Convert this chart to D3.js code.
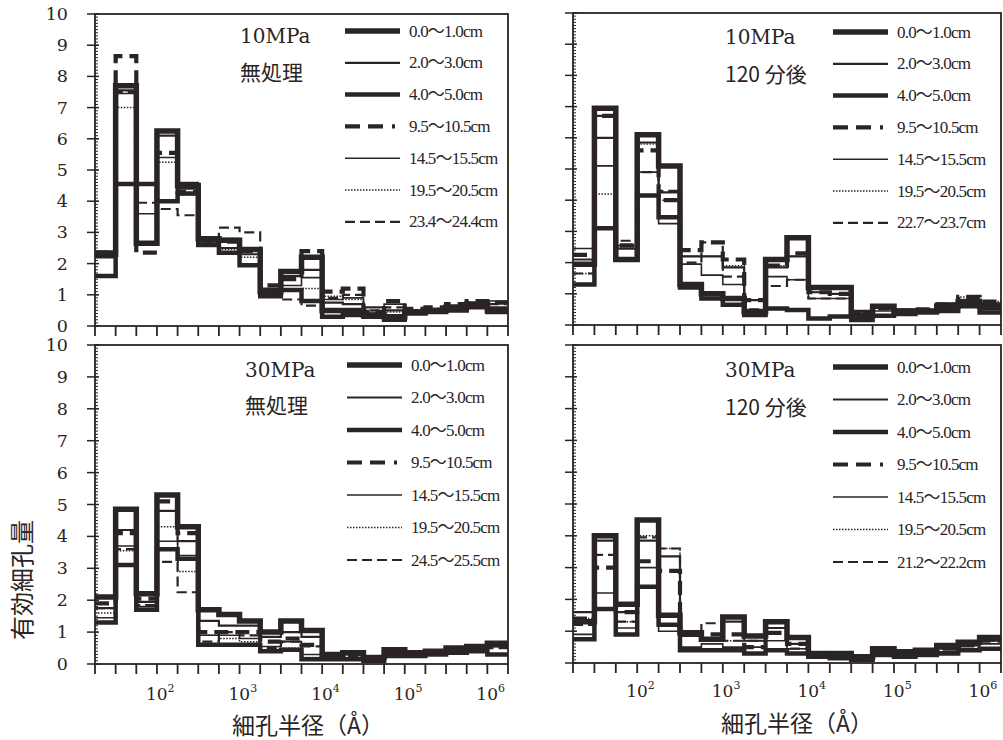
<!DOCTYPE html>
<html>
<head>
<meta charset="utf-8">
<script src="https://cdn.jsdelivr.net/npm/d3@7/dist/d3.min.js"></script>
<style>
  body { margin: 0; background: #fff; }
  svg { display: block; }
  text { fill: #2a2424; font-family: "DejaVu Serif", "Liberation Serif", "Noto Sans CJK JP", serif; }
  .leg { font-family: "Liberation Serif", "Noto Sans CJK JP", serif; }
  .jp { font-family: "Noto Sans CJK JP", sans-serif; }
</style>
</head>
<body>
<script>
// bin edges, as log10 of pore radius (quarter decades)
var binEdges = [1.25, 1.5, 1.75, 2.0, 2.25, 2.5, 2.75, 3.0, 3.25, 3.5, 3.75,
  4.0, 4.25, 4.5, 4.75, 5.0, 5.25, 5.5, 5.75, 6.0, 6.25];
var xTickLabels = [2, 3, 4, 5, 6];

var depthsCommon = ["0.0～1.0cm", "2.0～3.0cm", "4.0～5.0cm", "9.5～10.5cm", "14.5～15.5cm", "19.5～20.5cm"];
var lastDepth = ["23.4～24.4cm", "22.7～23.7cm", "24.5～25.5cm", "21.2～22.2cm"];
var pressures = ["10MPa", "10MPa", "30MPa", "30MPa"];
var treatments = ["無処理", "120 分後", "無処理", "120 分後"];

// 10MPa 無処理
var tl = [
  [2.3, 7.7, 2.65, 6.25, 4.5, 2.8, 2.75, 2.45, 1.1, 1.75, 2.2, 0.5, 0.5, 0.35, 0.3, 0.45, 0.5, 0.6, 0.7, 0.5],
  [2.2, 7.55, 2.6, 6.1, 4.4, 2.7, 2.5, 2.3, 1.2, 1.6, 1.8, 0.75, 0.7, 0.6, 0.5, 0.5, 0.55, 0.65, 0.75, 0.6],
  [1.6, 4.55, 4.55, 4.0, 4.25, 2.6, 2.35, 1.95, 0.95, 1.15, 0.8, 0.3, 0.35, 0.3, 0.2, 0.4, 0.45, 0.5, 0.6, 0.45],
  [2.35, 8.65, 2.35, 5.55, 4.3, 2.75, 2.7, 2.4, 1.3, 1.5, 2.4, 1.1, 1.2, 0.45, 0.8, 0.55, 0.6, 0.7, 0.8, 0.75],
  [2.4, 7.45, 3.6, 5.4, 4.6, 2.85, 2.8, 2.5, 1.05, 1.3, 1.55, 0.85, 0.9, 0.4, 0.7, 0.45, 0.5, 0.6, 0.7, 0.8],
  [2.25, 7.0, 2.7, 5.25, 4.2, 2.65, 2.45, 2.2, 1.0, 1.15, 1.2, 0.95, 0.85, 0.45, 0.45, 0.4, 0.5, 0.55, 0.65, 0.55],
  [2.3, 7.5, 3.95, 3.75, 3.55, 2.7, 3.15, 3.0, 1.15, 0.85, 0.65, 0.9, 1.0, 0.5, 0.6, 0.5, 0.55, 0.6, 0.75, 0.7]
];
// 10MPa 120分後
var tr = [
  [1.95, 6.95, 2.1, 6.1, 5.1, 1.3, 1.0, 0.85, 0.43, 2.1, 2.8, 1.2, 1.2, 0.3, 0.6, 0.45, 0.45, 0.6, 0.75, 0.6],
  [2.1, 6.0, 2.45, 5.85, 4.25, 2.2, 2.2, 1.85, 0.8, 1.85, 2.2, 1.05, 1.0, 0.45, 0.64, 0.45, 0.45, 0.6, 0.75, 0.5],
  [1.3, 3.1, 2.1, 4.15, 3.45, 1.2, 0.85, 0.65, 0.32, 0.53, 0.48, 0.21, 0.27, 0.16, 0.3, 0.35, 0.4, 0.45, 0.6, 0.4],
  [2.25, 6.7, 2.55, 5.6, 4.0, 2.4, 2.65, 2.1, 0.8, 1.9, 2.3, 1.05, 1.0, 0.4, 0.55, 0.45, 0.5, 0.65, 0.9, 0.75],
  [2.45, 5.1, 2.55, 4.9, 3.25, 1.95, 1.6, 1.3, 0.45, 1.55, 1.45, 0.85, 0.85, 0.3, 0.45, 0.5, 0.45, 0.7, 0.75, 0.7],
  [1.65, 4.2, 2.5, 5.8, 4.0, 2.2, 2.2, 1.9, 0.8, 1.9, 2.2, 1.05, 1.0, 0.35, 0.64, 0.5, 0.5, 0.7, 0.9, 0.75],
  [1.65, 6.7, 2.7, 4.9, 4.3, 2.0, 2.65, 1.55, 0.5, 1.25, 1.45, 0.85, 0.85, 0.4, 0.5, 0.45, 0.45, 0.6, 0.7, 0.6]
];
// 30MPa 無処理
var bl = [
  [2.1, 4.85, 2.2, 5.3, 4.3, 1.7, 1.55, 1.35, 1.0, 1.35, 1.05, 0.3, 0.35, 0.2, 0.45, 0.35, 0.4, 0.5, 0.55, 0.65],
  [1.75, 4.2, 1.95, 4.8, 3.85, 1.35, 1.2, 1.2, 0.85, 1.0, 0.85, 0.3, 0.35, 0.15, 0.35, 0.3, 0.35, 0.45, 0.5, 0.55],
  [1.3, 3.1, 1.7, 3.6, 3.3, 0.6, 0.6, 0.6, 0.4, 0.45, 0.15, 0.15, 0.15, 0.1, 0.25, 0.25, 0.3, 0.35, 0.4, 0.3],
  [1.9, 4.1, 2.05, 5.1, 4.1, 1.0, 1.0, 1.0, 0.7, 0.8, 0.6, 0.25, 0.3, 0.2, 0.45, 0.35, 0.4, 0.5, 0.55, 0.6],
  [1.45, 3.7, 1.8, 3.85, 3.4, 0.9, 0.9, 0.8, 0.55, 0.7, 0.3, 0.25, 0.3, 0.15, 0.3, 0.3, 0.35, 0.45, 0.5, 0.55],
  [1.6, 3.55, 1.7, 4.3, 2.9, 0.9, 0.8, 0.7, 0.45, 0.5, 0.2, 0.2, 0.2, 0.1, 0.4, 0.3, 0.35, 0.4, 0.5, 0.6],
  [1.75, 3.6, 1.85, 3.2, 2.25, 0.7, 1.0, 0.9, 0.5, 0.7, 0.55, 0.2, 0.25, 0.15, 0.3, 0.3, 0.3, 0.4, 0.45, 0.5]
];
// 30MPa 120分後
var br = [
  [1.3, 4.0, 1.85, 4.5, 1.5, 0.95, 0.75, 1.45, 0.85, 1.3, 0.8, 0.3, 0.3, 0.2, 0.45, 0.35, 0.4, 0.55, 0.65, 0.8],
  [1.6, 3.85, 1.6, 3.85, 3.35, 0.85, 0.75, 1.3, 0.7, 1.1, 0.6, 0.25, 0.2, 0.15, 0.35, 0.3, 0.3, 0.45, 0.55, 0.7],
  [0.75, 1.7, 0.9, 2.4, 1.2, 0.4, 0.4, 0.4, 0.3, 0.4, 0.3, 0.2, 0.15, 0.1, 0.25, 0.2, 0.25, 0.3, 0.4, 0.45],
  [1.4, 3.0, 1.6, 3.2, 2.9, 0.95, 0.9, 0.9, 0.5, 0.95, 0.6, 0.25, 0.25, 0.2, 0.35, 0.3, 0.4, 0.45, 0.55, 0.7],
  [0.9, 2.2, 1.1, 3.0, 1.0, 0.5, 0.6, 0.5, 0.5, 0.7, 0.45, 0.2, 0.2, 0.1, 0.3, 0.25, 0.3, 0.35, 0.45, 0.6],
  [1.4, 3.95, 1.3, 4.0, 3.6, 0.85, 0.75, 0.7, 0.7, 1.1, 0.45, 0.3, 0.2, 0.15, 0.35, 0.3, 0.35, 0.5, 0.65, 0.8],
  [1.2, 3.4, 1.3, 3.95, 3.6, 0.85, 1.25, 0.7, 0.7, 1.1, 0.45, 0.3, 0.2, 0.15, 0.35, 0.3, 0.35, 0.5, 0.6, 0.7]
];

var ink = "#2a2424";
// line style per depth series
var styles = [
  { w: 5.5, dash: null },
  { w: 2.2, dash: null },
  { w: 4.5, dash: null },
  { w: 4.2, dash: "14,7" },
  { w: 1.6, dash: null },
  { w: 1.5, dash: "1.5,1.5" },
  { w: 2.2, dash: "10,5" }
];

var panels = [
  { data: tl, x0: 95, x1: 508, y0: 14, y1: 326, yLabels: true, xLabels: false,
    tx: 240, ty: [43, 80], lx: 345, ly: 31, ldy: 31.8 },
  { data: tr, x0: 573, x1: 1001, y0: 13, y1: 325, yLabels: false, xLabels: false,
    tx: 725, ty: [44, 82], lx: 833, ly: 32, ldy: 31.8 },
  { data: bl, x0: 95, x1: 508, y0: 345, y1: 664, yLabels: true, xLabels: true,
    tx: 245, ty: [377, 413], lx: 347, ly: 365, ldy: 32.5 },
  { data: br, x0: 573, x1: 1001, y0: 345, y1: 663, yLabels: false, xLabels: true,
    tx: 725, ty: [377, 415], lx: 833, ly: 367, ldy: 32.5 }
];

var svg = d3.select("body").append("svg").attr("width", 1003).attr("height", 740);

panels.forEach(function(p, pi) {
  var x = d3.scaleLog().domain([Math.pow(10, binEdges[0]), Math.pow(10, binEdges[binEdges.length - 1])])
    .range([p.x0, p.x1]);
  var y = d3.scaleLinear().domain([0, 10]).range([p.y1, p.y0]);
  var g = svg.append("g");

  // histogram steps
  var line = d3.line().curve(d3.curveStepAfter)
    .x(function(d) { return x(Math.pow(10, d[0])); })
    .y(function(d) { return y(d[1]); });

  p.data.forEach(function(vals, si) {
    var pts = vals.map(function(v, i) { return [binEdges[i], v]; });
    pts.push([binEdges[binEdges.length - 1], vals[vals.length - 1]]);
    var st = styles[si];
    g.append("path").attr("d", line(pts))
      .attr("fill", "none").attr("stroke", ink)
      .attr("stroke-width", st.w)
      .attr("stroke-dasharray", st.dash);
  });

  // frame
  g.append("rect").attr("x", p.x0).attr("y", p.y0)
    .attr("width", p.x1 - p.x0).attr("height", p.y1 - p.y0)
    .attr("fill", "none").attr("stroke", ink).attr("stroke-width", 1.8);

  // y ticks: minor every 0.1 inside, major outward
  var minor = d3.range(0, 100).map(function(i) { return i / 10; });
  g.selectAll(".ymin").data(minor).enter().append("line")
    .attr("x1", p.x0).attr("x2", p.x0 + 3)
    .attr("y1", function(d) { return y(d); }).attr("y2", function(d) { return y(d); })
    .attr("stroke", ink).attr("stroke-width", 1);
  g.selectAll(".ymaj").data(d3.range(0, 11)).enter().append("line")
    .attr("x1", p.x0 - 8).attr("x2", p.x0 + 4)
    .attr("y1", function(d) { return y(d); }).attr("y2", function(d) { return y(d); })
    .attr("stroke", ink).attr("stroke-width", 1.5);
  if (p.yLabels) {
    g.selectAll(".ylab").data(d3.range(0, 11)).enter().append("text")
      .attr("x", p.x0 - 27).attr("y", function(d) { return y(d) + 6; })
      .attr("text-anchor", "end").attr("font-size", 17.5)
      .text(function(d) { return d; });
  }

  // x ticks at quarter decades, pointing down
  g.selectAll(".xt").data(binEdges).enter().append("line")
    .attr("x1", function(d) { return x(Math.pow(10, d)); })
    .attr("x2", function(d) { return x(Math.pow(10, d)); })
    .attr("y1", p.y1).attr("y2", p.y1 + 10)
    .attr("stroke", ink).attr("stroke-width", 1.8);
  if (p.xLabels) {
    var ly = pi === 2 ? 700 : 697;
    xTickLabels.forEach(function(e) {
      var t = g.append("text").attr("x", x(Math.pow(10, e)) - 11).attr("y", ly)
        .attr("font-size", 17);
      t.append("tspan").text("10");
      t.append("tspan").attr("font-size", 11).attr("dy", -8).text(e);
    });
    g.append("text").attr("class", "jp")
      .attr("x", pi === 2 ? 308 : 797).attr("y", pi === 2 ? 734 : 732)
      .attr("text-anchor", "middle").attr("font-size", 23)
      .text("細孔半径（Å）");
  }

  // panel title
  g.append("text").attr("x", p.tx).attr("y", p.ty[0]).attr("font-size", 20).text(pressures[pi]);
  g.append("text").attr("class", "jp").attr("x", p.tx).attr("y", p.ty[1]).attr("font-size", 21)
    .text(treatments[pi]);

  // legend
  var labels = depthsCommon.concat([lastDepth[pi]]);
  labels.forEach(function(lab, si) {
    var yy = p.ly + si * p.ldy;
    var st = styles[si];
    g.append("line").attr("x1", p.lx).attr("x2", p.lx + 55)
      .attr("y1", yy).attr("y2", yy)
      .attr("stroke", ink).attr("stroke-width", st.w)
      .attr("stroke-dasharray", si === 3 ? "15,8,15,9,3" : st.dash);
    g.append("text").attr("class", "leg").attr("x", p.lx + 64).attr("y", yy + 5.5)
      .attr("font-size", 17).attr("letter-spacing", -0.8)
      .text(lab);
  });
});

// y axis title
svg.append("text").attr("class", "jp")
  .attr("transform", "translate(31,580) rotate(-90)")
  .attr("text-anchor", "middle").attr("font-size", 24)
  .text("有効細孔量");
</script>
</body>
</html>
